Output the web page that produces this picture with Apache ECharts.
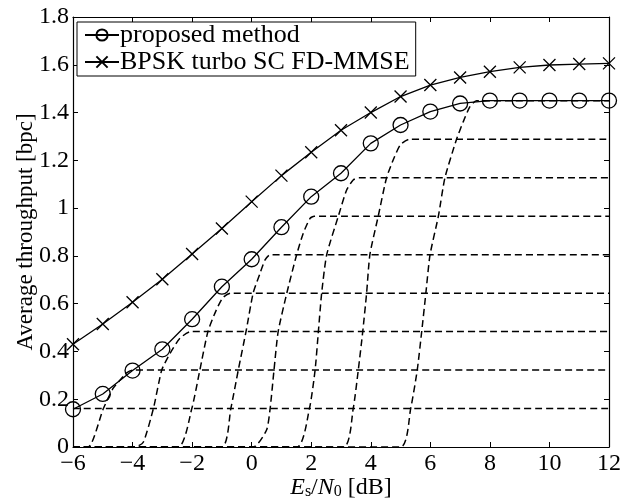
<!DOCTYPE html>
<html>
<head>
<meta charset="utf-8">
<script src="https://cdn.jsdelivr.net/npm/echarts@6/dist/echarts.min.js"></script>
<style>
    html, body { margin: 0; padding: 0; background: #fff; }
    #chart { width: 639px; height: 500px; }
</style>
</head>
<body>
<div id="chart"></div>
<script>
// Es/N0 [dB]
const snrDb = [-6, -5, -4, -3, -2, -1, 0, 1, 2, 3, 4, 5, 6, 7, 8, 9, 10, 11, 12];

// 两条主曲线
const proposed = [0.158, 0.222, 0.32, 0.409, 0.535, 0.671, 0.786, 0.92, 1.048, 1.146,
    1.271, 1.348, 1.404, 1.438, 1.45, 1.45, 1.45, 1.45, 1.45];
const bpskTurbo = [0.43, 0.515, 0.606, 0.702, 0.808, 0.915, 1.027, 1.136, 1.234, 1.326,
    1.40, 1.467, 1.515, 1.547, 1.571, 1.589, 1.599, 1.603, 1.606];

// 虚线 (各个码率的吞吐量曲线)
const dash1 = [[-6, 0.161], [12, 0.161]];
const dash2 = [[-6, 0], [-5.49, 0], [-4.98, 0.161], [-4.65, 0.246], [-4.42, 0.28], [-4.2, 0.31], [-4.0, 0.322], [12, 0.322]];
const dash3 = [[-6, 0], [-3.92, 0], [-3.64, 0.02], [-3.30, 0.161], [-3.02, 0.322], [-2.74, 0.392], [-2.41, 0.455], [-2.05, 0.483], [12, 0.483]];
const dash4 = [[-6, 0], [-2.47, 0], [-2.01, 0.161], [-1.74, 0.322], [-1.47, 0.483], [-1.2, 0.57], [-0.97, 0.625], [-0.7, 0.644], [12, 0.644]];
const dash5 = [[-6, 0], [-1.01, 0], [-0.70, 0.161], [-0.45, 0.322], [-0.19, 0.483], [0.05, 0.644], [0.28, 0.727], [0.45, 0.783], [0.62, 0.805], [12, 0.805]];
const dash6 = [[-6, 0], [0.05, 0], [0.5, 0.071], [0.62, 0.161], [0.75, 0.322], [0.89, 0.483], [1.18, 0.644], [1.51, 0.805], [1.73, 0.894], [1.96, 0.957], [2.1, 0.966], [12, 0.966]];
const dash7 = [[-6, 0], [1.51, 0], [1.94, 0.161], [2.13, 0.322], [2.24, 0.483], [2.35, 0.644], [2.52, 0.805], [2.91, 0.966], [3.19, 1.076], [3.41, 1.118], [3.6, 1.127], [12, 1.127]];
const dash8 = [[-6, 0], [3.08, 0], [3.41, 0.161], [3.58, 0.322], [3.73, 0.483], [3.86, 0.644], [3.97, 0.805], [4.25, 0.966], [4.53, 1.127], [4.78, 1.21], [5.0, 1.266], [5.3, 1.288], [12, 1.288]];
const dash9 = [[-6, 0], [5.0, 0], [5.34, 0.161], [5.56, 0.322], [5.71, 0.483], [5.85, 0.644], [5.99, 0.805], [6.27, 0.966], [6.49, 1.127], [6.88, 1.288], [7.1, 1.36], [7.33, 1.425], [7.55, 1.449], [12, 1.449]];

const dashCurves = [dash1, dash2, dash3, dash4, dash5, dash6, dash7, dash8, dash9];

const FONT = '"Liberation Serif", "DejaVu Serif", serif';

function fmtTick(v) {
    return v < 0 ? '\u2212' + Math.abs(v) : String(v);
}

function pairs(ys) {
    return snrDb.map((x, i) => [x, ys[i]]);
}

let series = [];

dashCurves.forEach((d, i) => {
    series.push({
        name: 'dash' + (i + 1),
        type: 'line',
        data: d,
        symbol: 'none',
        smooth: 0.2,
        silent: true,
        z: 1,
        lineStyle: { color: '#000', width: 1.5, type: [7, 4] }
    });
});

series.push({
    name: 'proposed method',
    type: 'line',
    data: pairs(proposed),
    symbol: 'circle',
    symbolSize: 15,
    showAllSymbol: true,
    z: 3,
    lineStyle: { color: '#000', width: 1.3 },
    itemStyle: { color: 'rgba(0,0,0,0)', borderColor: '#000', borderWidth: 1.3 }
});

series.push({
    name: 'BPSK turbo SC FD-MMSE',
    type: 'line',
    data: pairs(bpskTurbo),
    symbol: 'path://M0,0L10,10M10,0L0,10',
    symbolSize: 12,
    showAllSymbol: true,
    z: 3,
    lineStyle: { color: '#000', width: 1.3 },
    itemStyle: { color: 'rgba(0,0,0,0)', borderColor: '#000', borderWidth: 1.3 }
});

const axisLine = { onZero: false, lineStyle: { color: '#000', width: 1.2 } };
const axisTick = { inside: true, length: 5, lineStyle: { color: '#000' } };

const option = {
    animation: false,
    backgroundColor: '#fff',
    grid: { left: 73, right: 30, top: 17, bottom: 53, outerBoundsMode: 'none', containLabel: false },
    legend: {
        data: ['proposed method', 'BPSK turbo SC FD-MMSE'],
        orient: 'vertical',
        left: 77,
        top: 22,
        itemWidth: 34,
        itemHeight: 14,
        itemGap: 1,
        padding: [0, 6, 1, 7],
        backgroundColor: '#fff',
        borderColor: '#000',
        borderWidth: 1,
        selectedMode: false,
        textStyle: { fontFamily: FONT, fontSize: 26, lineHeight: 22, color: '#000', padding: [0, 0, 0, -4] }
    },
    xAxis: [
        {
            type: 'value',
            min: -6,
            max: 12,
            interval: 2,
            name: '{i|E}{sub|s}{n|/}{i|N}{sub|0}{n| [dB]}',
            nameLocation: 'middle',
            nameGap: 28,
            nameMoveOverlap: false,
            nameTextStyle: {
                rich: {
                    i: { fontFamily: FONT, fontSize: 24, fontStyle: 'italic', color: '#000' },
                    n: { fontFamily: FONT, fontSize: 24, color: '#000' },
                    sub: { fontFamily: FONT, fontSize: 16, color: '#000', verticalAlign: 'bottom', padding: [9, 0, 0, 0] }
                }
            },
            axisLine: axisLine,
            axisTick: axisTick,
            axisLabel: { formatter: fmtTick, fontFamily: FONT, fontSize: 24, color: '#000', margin: 5 },
            splitLine: { show: false }
        },
        {
            type: 'value',
            position: 'top',
            min: -6,
            max: 12,
            interval: 2,
            axisLine: axisLine,
            axisTick: axisTick,
            axisLabel: { show: false },
            splitLine: { show: false }
        }
    ],
    yAxis: [
        {
            type: 'value',
            min: 0,
            max: 1.8,
            interval: 0.2,
            name: 'Average throughput [bpc]',
            nameLocation: 'middle',
            nameGap: 36,
            nameMoveOverlap: false,
            nameTextStyle: { fontFamily: FONT, fontSize: 23, color: '#000' },
            axisLine: axisLine,
            axisTick: axisTick,
            axisLabel: { fontFamily: FONT, fontSize: 24, color: '#000', margin: 4 },
            splitLine: { show: false }
        },
        {
            type: 'value',
            position: 'right',
            min: 0,
            max: 1.8,
            interval: 0.2,
            axisLine: axisLine,
            axisTick: axisTick,
            axisLabel: { show: false },
            splitLine: { show: false }
        }
    ],
    series: series
};

let chart = echarts.init(document.getElementById('chart'));
chart.setOption(option);
</script>
</body>
</html>
